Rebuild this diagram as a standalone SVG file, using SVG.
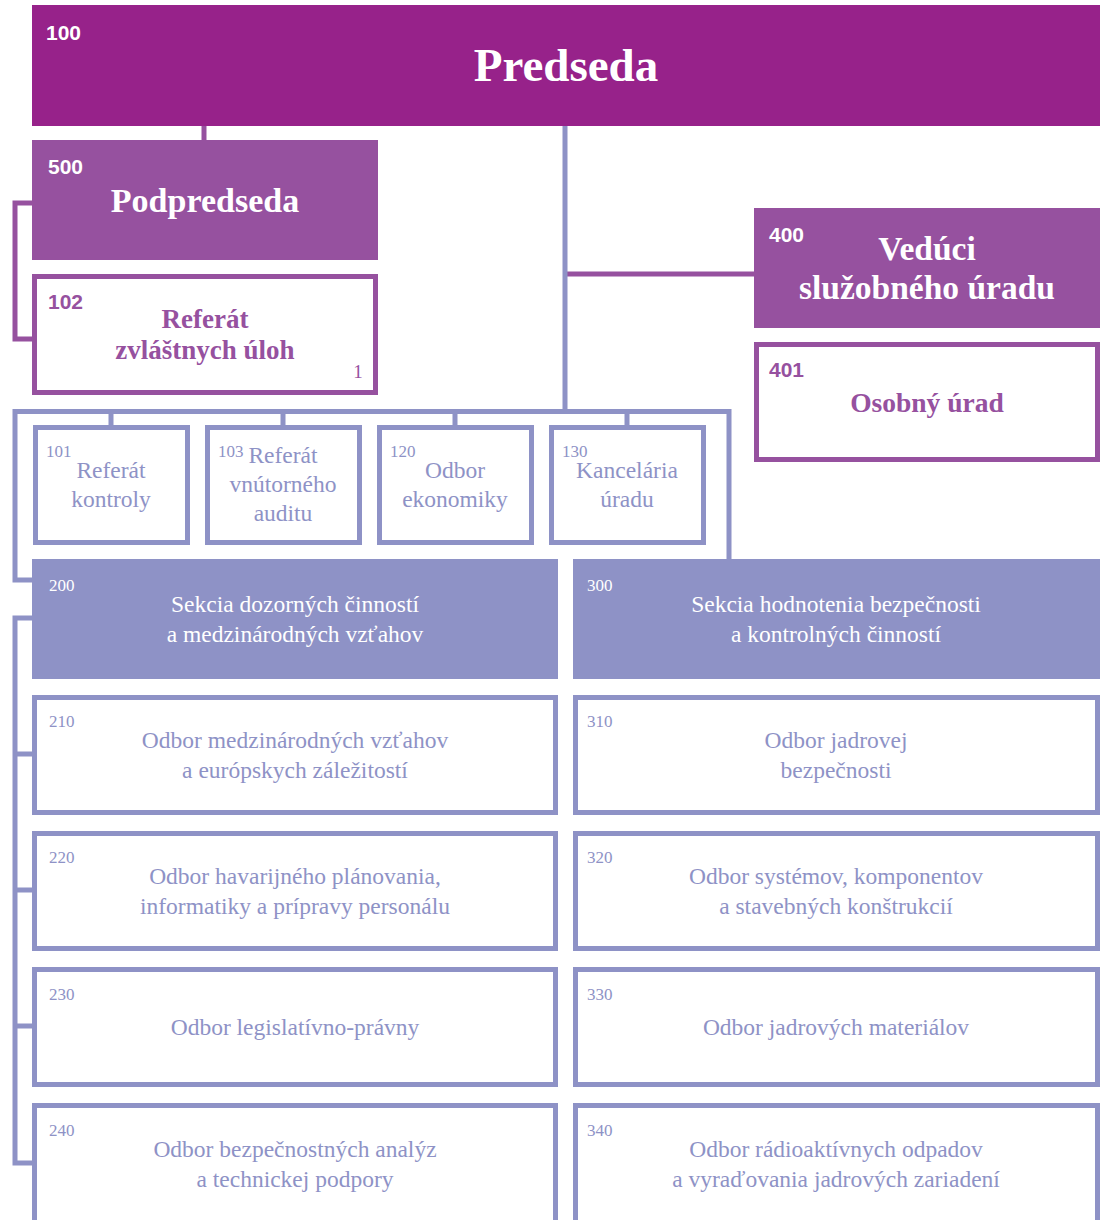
<svg xmlns="http://www.w3.org/2000/svg" width="1100" height="1220" viewBox="0 0 1100 1220">
<style>
.bg{fill:#ffffff}
.top{fill:#97228A}
.pur{fill:#96519F}
.purb{fill:#ffffff;stroke:#96519F;stroke-width:5}
.sec{fill:#8E92C6}
.blb{fill:#ffffff;stroke:#8E92C6;stroke-width:5}
.cp{fill:none;stroke:#96519F;stroke-width:5}
.cb{fill:none;stroke:#8E92C6;stroke-width:5}
.numW{font-family:"Liberation Sans",Arial,sans-serif;font-weight:bold;font-size:21px;fill:#ffffff}
.numP{font-family:"Liberation Sans",Arial,sans-serif;font-weight:bold;font-size:21px;fill:#96519F}
.hW{font-family:"Liberation Serif","Times New Roman",serif;font-weight:bold;fill:#ffffff;text-anchor:middle}
.hP{font-family:"Liberation Serif","Times New Roman",serif;font-weight:bold;fill:#96519F;text-anchor:middle}
.sn{font-family:"Liberation Serif","Times New Roman",serif;font-size:17px}
.snW{fill:#ffffff}
.snB{fill:#8E92C6}
.tW{font-family:"Liberation Serif","Times New Roman",serif;font-size:23.5px;fill:#ffffff;text-anchor:middle}
.tB{font-family:"Liberation Serif","Times New Roman",serif;font-size:23.5px;fill:#8E92C6;text-anchor:middle}
</style>
<rect class="bg" x="0" y="0" width="1100" height="1220"/>
<g id="connectors">
<path class="cp" d="M204,126 V140"/>
<path class="cp" d="M32,203 H15 V339 H32"/>
<path class="cp" d="M565,274 H754"/>
<path class="cb" d="M565,126 V411.5"/>
<path class="cb" d="M32,580 H15 V411.5 H729 V559"/>
<path class="cb" d="M111,411 V425 M283,411 V425 M455,411 V425 M627,411 V425"/>
<path class="cb" d="M32,618 H15 V1163 H32 M15,754 H32 M15,890 H32 M15,1026 H32"/>
</g>
<g id="n100">
<rect class="top" x="32" y="5" width="1068" height="121"/>
<text class="numW" x="46" y="40">100</text>
<text class="hW" x="566" y="81" font-size="47">Predseda</text>
</g>
<g id="n500">
<rect class="pur" x="32" y="140" width="346" height="120"/>
<text class="numW" x="48" y="174">500</text>
<text class="hW" x="205" y="212" font-size="34">Podpredseda</text>
</g>
<g id="n102">
<rect class="purb" x="34.5" y="276.5" width="341" height="116"/>
<text class="numP" x="48" y="309">102</text>
<text class="hP" x="205" y="328" font-size="27">Referát</text>
<text class="hP" x="205" y="359" font-size="27">zvláštnych úloh</text>
<text x="358" y="378" font-family="Liberation Serif, serif" font-size="19" fill="#96519F" text-anchor="middle">1</text>
</g>
<g id="n400">
<rect class="pur" x="754" y="208" width="346" height="120"/>
<text class="numW" x="769" y="242">400</text>
<text class="hW" x="927" y="260" font-size="33.5">Vedúci</text>
<text class="hW" x="927" y="299" font-size="33.5">služobného úradu</text>
</g>
<g id="n401">
<rect class="purb" x="756.5" y="344.5" width="341" height="115"/>
<text class="numP" x="769" y="377">401</text>
<text class="hP" x="927" y="412" font-size="27.5">Osobný úrad</text>
</g>
<g id="n101">
<rect class="blb" x="35.5" y="427.5" width="152" height="115"/>
<text class="sn snB" x="46" y="457">101</text>
<text class="tB" x="111" y="478">Referát</text>
<text class="tB" x="111" y="507">kontroly</text>
</g>
<g id="n103">
<rect class="blb" x="207.5" y="427.5" width="152" height="115"/>
<text class="sn snB" x="218" y="457">103</text>
<text class="tB" x="283" y="463">Referát</text>
<text class="tB" x="283" y="492">vnútorného</text>
<text class="tB" x="283" y="521">auditu</text>
</g>
<g id="n120">
<rect class="blb" x="379.5" y="427.5" width="152" height="115"/>
<text class="sn snB" x="390" y="457">120</text>
<text class="tB" x="455" y="478">Odbor</text>
<text class="tB" x="455" y="507">ekonomiky</text>
</g>
<g id="n130">
<rect class="blb" x="551.5" y="427.5" width="152" height="115"/>
<text class="sn snB" x="562" y="457">130</text>
<text class="tB" x="627" y="478">Kancelária</text>
<text class="tB" x="627" y="507">úradu</text>
</g>
<g id="n200">
<rect class="sec" x="32" y="559" width="526" height="120"/>
<text class="sn snW" x="49" y="591">200</text>
<text class="tW" x="295" y="612">Sekcia dozorných činností</text>
<text class="tW" x="295" y="642">a medzinárodných vzťahov</text>
</g>
<g id="n300">
<rect class="sec" x="573" y="559" width="527" height="120"/>
<text class="sn snW" x="587" y="591">300</text>
<text class="tW" x="836" y="612">Sekcia hodnotenia bezpečnosti</text>
<text class="tW" x="836" y="642">a kontrolných činností</text>
</g>
<g id="n210">
<rect class="blb" x="34.5" y="697.5" width="521" height="115"/>
<text class="sn snB" x="49" y="727">210</text>
<text class="tB" x="295" y="748">Odbor medzinárodných vzťahov</text>
<text class="tB" x="295" y="778">a európskych záležitostí</text>
</g>
<g id="n310">
<rect class="blb" x="575.5" y="697.5" width="522" height="115"/>
<text class="sn snB" x="587" y="727">310</text>
<text class="tB" x="836" y="748">Odbor jadrovej</text>
<text class="tB" x="836" y="778">bezpečnosti</text>
</g>
<g id="n220">
<rect class="blb" x="34.5" y="833.5" width="521" height="115"/>
<text class="sn snB" x="49" y="863">220</text>
<text class="tB" x="295" y="884">Odbor havarijného plánovania,</text>
<text class="tB" x="295" y="914">informatiky a prípravy personálu</text>
</g>
<g id="n320">
<rect class="blb" x="575.5" y="833.5" width="522" height="115"/>
<text class="sn snB" x="587" y="863">320</text>
<text class="tB" x="836" y="884">Odbor systémov, komponentov</text>
<text class="tB" x="836" y="914">a stavebných konštrukcií</text>
</g>
<g id="n230">
<rect class="blb" x="34.5" y="969.5" width="521" height="115"/>
<text class="sn snB" x="49" y="1000">230</text>
<text class="tB" x="295" y="1035">Odbor legislatívno-právny</text>
</g>
<g id="n330">
<rect class="blb" x="575.5" y="969.5" width="522" height="115"/>
<text class="sn snB" x="587" y="1000">330</text>
<text class="tB" x="836" y="1035">Odbor jadrových materiálov</text>
</g>
<g id="n240">
<rect class="blb" x="34.5" y="1105.5" width="521" height="120"/>
<text class="sn snB" x="49" y="1136">240</text>
<text class="tB" x="295" y="1157">Odbor bezpečnostných analýz</text>
<text class="tB" x="295" y="1187">a technickej podpory</text>
</g>
<g id="n340">
<rect class="blb" x="575.5" y="1105.5" width="522" height="120"/>
<text class="sn snB" x="587" y="1136">340</text>
<text class="tB" x="836" y="1157">Odbor rádioaktívnych odpadov</text>
<text class="tB" x="836" y="1187">a vyraďovania jadrových zariadení</text>
</g>
</svg>
